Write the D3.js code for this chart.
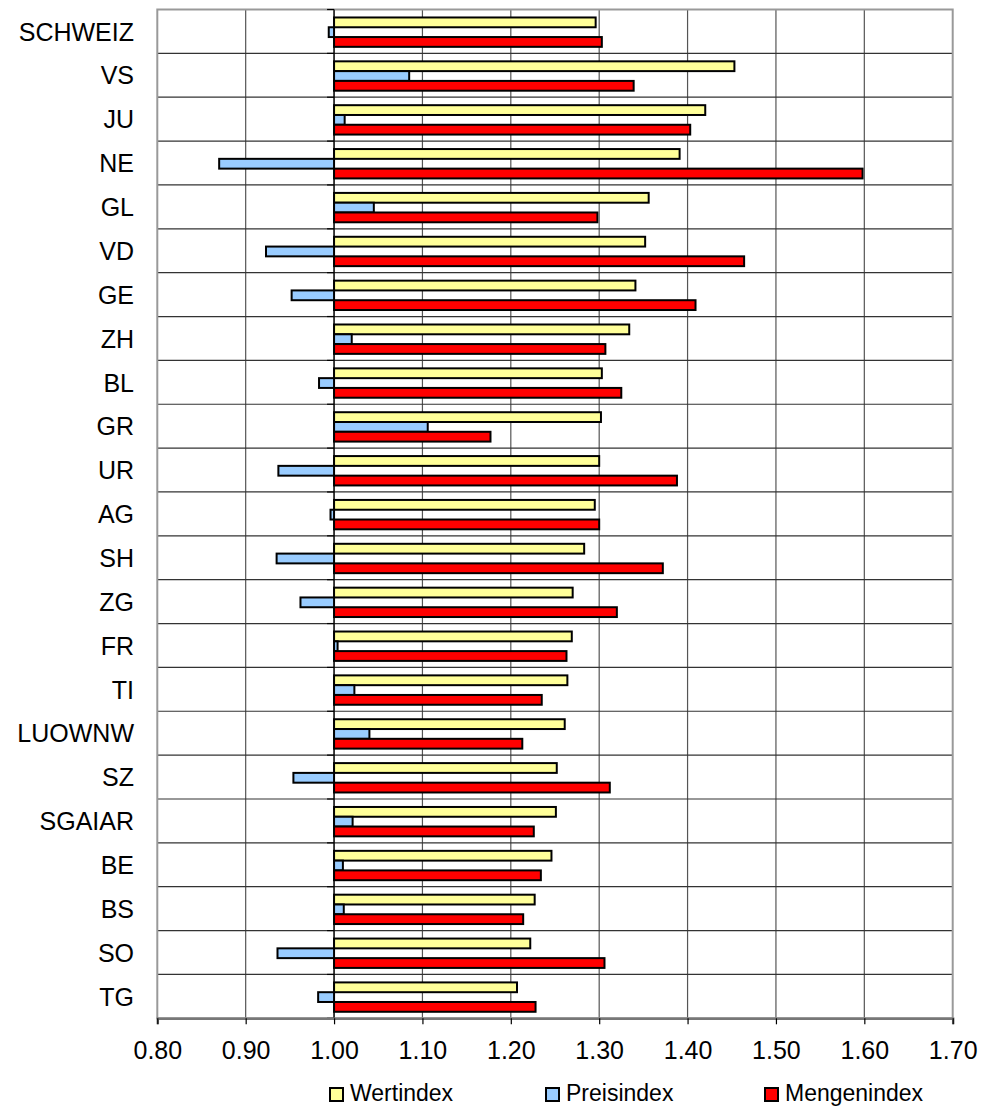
<!DOCTYPE html>
<html>
<head>
<meta charset="utf-8">
<script src="https://cdn.jsdelivr.net/npm/d3@7"></script>
<style>
  html, body { margin: 0; padding: 0; background: #fff; }
  svg { display: block; font-family: "Liberation Sans", Arial, sans-serif; }
</style>
</head>
<body>
<svg id="chart" width="982" height="1106"></svg>
<script>
const categories = ["SCHWEIZ","VS","JU","NE","GL","VD","GE","ZH","BL","GR","UR","AG","SH","ZG","FR","TI","LUOWNW","SZ","SGAIAR","BE","BS","SO","TG"];
const wertindex  = [1.296,1.453,1.420,1.391,1.356,1.352,1.341,1.334,1.303,1.302,1.300,1.295,1.283,1.270,1.269,1.264,1.261,1.252,1.251,1.246,1.227,1.222,1.207];
const preisindex = [0.994,1.085,1.012,0.870,1.045,0.923,0.952,1.020,0.983,1.106,0.937,0.996,0.935,0.962,1.004,1.023,1.040,0.954,1.021,1.010,1.011,0.936,0.982];
const mengenindex= [1.303,1.339,1.403,1.598,1.298,1.464,1.409,1.307,1.325,1.177,1.388,1.300,1.372,1.320,1.263,1.235,1.213,1.312,1.226,1.234,1.214,1.306,1.228];
const seriesNames = ["Wertindex","Preisindex","Mengenindex"];
const seriesColors = ["#FFFF99","#99CCFF","#FF0000"];
const xTicks = [0.8,0.9,1.0,1.1,1.2,1.3,1.4,1.5,1.6,1.7];
const baseline = 1.0;

const seriesValues = [wertindex, preisindex, mengenindex];
const rows = categories.map((c, i) => ({cat: c, vals: seriesValues.map(s => s[i])}));

const svg = d3.select("#chart");
const L = 157.3, R = 952.7, T = 9.5, B = 1018.3;

const x = d3.scaleLinear().domain([0.8, 1.7]).range([L, R]);
const y = d3.scaleBand().domain(categories).range([T, B]).paddingInner(0).paddingOuter(0);
const ys = d3.scaleBand().domain(seriesNames).range([0, y.bandwidth()]).paddingInner(0).paddingOuter(0.74).align(0.55);

// vertical gridlines
svg.append("g").selectAll("line").data(xTicks.slice(1, -1)).join("line")
  .attr("x1", d => x(d)).attr("x2", d => x(d))
  .attr("y1", T).attr("y2", B)
  .attr("stroke", "#555").attr("stroke-width", 1.2);

// horizontal gridlines at category boundaries
const bounds = categories.slice(1).map(c => y(c));
svg.append("g").selectAll("line").data(bounds).join("line")
  .attr("x1", L).attr("x2", R)
  .attr("y1", d => d).attr("y2", d => d)
  .attr("stroke", "#333").attr("stroke-width", 1.2);

// plot border
svg.append("rect").attr("x", L).attr("y", T).attr("width", R - L).attr("height", B - T)
  .attr("fill", "none").attr("stroke", "#999").attr("stroke-width", 2);

// category axis at 1.00
svg.append("line").attr("x1", x(baseline)).attr("x2", x(baseline)).attr("y1", T).attr("y2", B)
  .attr("stroke", "#000").attr("stroke-width", 1.2);
svg.append("g").selectAll("line").data(categories.map(c => y(c)).concat([B])).join("line")
  .attr("x1", x(baseline) - 7).attr("x2", x(baseline))
  .attr("y1", d => d).attr("y2", d => d)
  .attr("stroke", "#000").attr("stroke-width", 1.2);

// bars
const groups = svg.append("g").selectAll("g").data(rows).join("g")
  .attr("transform", d => `translate(0,${y(d.cat)})`);
groups.selectAll("rect").data(d => d.vals.map((v, i) => ({v, i}))).join("rect")
  .attr("x", d => x(Math.min(d.v, baseline)))
  .attr("width", d => Math.abs(x(d.v) - x(baseline)))
  .attr("y", d => ys(seriesNames[d.i]))
  .attr("height", ys.bandwidth())
  .attr("fill", d => seriesColors[d.i])
  .attr("stroke", "#000").attr("stroke-width", 2);

// category labels
svg.append("g").selectAll("text").data(categories).join("text")
  .attr("x", 134).attr("y", d => y(d) + y.bandwidth() / 2 + 9.2)
  .attr("text-anchor", "end").attr("font-size", 25).attr("fill", "#000")
  .text(d => d);

// x axis
const xAxis = d3.axisBottom(x).tickValues(xTicks).tickFormat(d3.format(".2f")).tickSize(6).tickPadding(17);
const ax = svg.append("g").attr("transform", `translate(0,${B})`).call(xAxis);
ax.select(".domain").attr("stroke", "#777").attr("stroke-width", 2.5);
ax.selectAll(".tick line").attr("stroke", "#000").attr("stroke-width", 1.2);
ax.selectAll(".tick text").attr("font-size", 25).attr("fill", "#000")
  .attr("font-family", "'Liberation Sans', Arial, sans-serif");

// legend
const legendX = [330, 546, 765];
const lg = svg.append("g").selectAll("g").data(seriesNames).join("g")
  .attr("transform", (d, i) => `translate(${legendX[i]},1088)`);
lg.append("rect").attr("x", 0).attr("y", 0).attr("width", 13).attr("height", 13)
  .attr("fill", (d, i) => seriesColors[i]).attr("stroke", "#000").attr("stroke-width", 2);
lg.append("text").attr("x", 20).attr("y", 13).attr("font-size", 23).attr("fill", "#000").text(d => d);
</script>
</body>
</html>
